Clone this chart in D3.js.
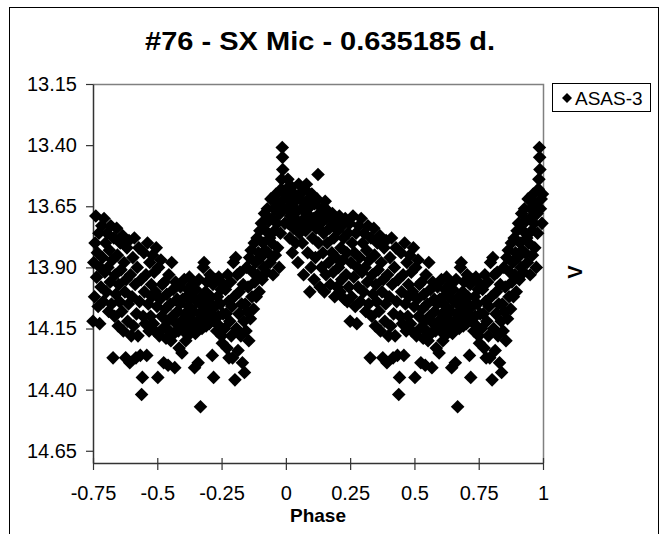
<!DOCTYPE html>
<html>
<head>
<meta charset="utf-8">
<script src="https://cdn.jsdelivr.net/npm/d3@7"></script>
<style>
  html, body { margin: 0; padding: 0; background: #fff; }
  svg { display: block; font-family: "Liberation Sans", Arial, sans-serif; }
</style>
</head>
<body>
<svg id="chart" width="661" height="534"></svg>
<script>
// Phased light curve of SX Mic (ASAS-3), period 0.635185 d.
const titleText = "#76 - SX Mic - 0.635185 d.";
const seriesName = "ASAS-3";
const xLabel = "Phase";
const yLabel = "V";

const xTicks = [-0.75, -0.5, -0.25, 0, 0.25, 0.5, 0.75, 1];
const xTickLabels = ["-0.75", "-0.5", "-0.25", "0", "0.25", "0.5", "0.75", "1"];
const yTicks = [13.15, 13.40, 13.65, 13.90, 14.15, 14.40, 14.65];
const yTickLabels = ["13.15", "13.40", "13.65", "13.90", "14.15", "14.40", "14.65"];
const xDomain = [-0.75, 1];
const yDomain = [13.15, 14.70];

// Observations folded on one cycle: phase (0..1) and V magnitude
const phase = [
  0.002,0.005,0.008,0.010,0.012,0.015,0.018,
  0.022,0.025,0.027,0.030,0.033,0.036,0.038,
  0.041,0.044,0.047,0.050,0.053,0.055,0.058,
  0.061,0.064,0.066,0.069,0.071,0.074,0.077,
  0.080,0.082,0.085,0.088,0.090,0.093,0.096,0.098,
  0.101,0.104,0.107,0.110,0.112,0.115,0.118,
  0.121,0.125,0.127,0.130,0.133,0.136,0.139,
  0.141,0.144,0.147,0.150,0.153,0.156,0.158,
  0.161,0.164,0.167,0.170,0.173,0.176,0.179,
  0.181,0.184,0.187,0.190,0.193,0.196,0.199,
  0.202,0.205,0.208,0.211,0.214,0.217,0.219,
  0.222,0.225,0.228,0.231,0.234,0.237,0.239,
  0.242,0.245,0.248,0.250,0.253,0.256,0.258,
  0.261,0.264,0.267,0.270,0.273,0.276,0.278,
  0.281,0.284,0.287,0.290,0.293,0.296,0.299,
  0.302,0.305,0.308,0.311,0.314,0.317,0.319,
  0.322,0.325,0.328,0.331,0.334,0.336,0.339,
  0.342,0.345,0.348,0.350,0.353,0.356,0.359,
  0.362,0.365,0.368,0.371,0.374,0.377,0.379,
  0.382,0.385,0.388,0.390,0.393,0.396,0.399,
  0.402,0.405,0.408,0.411,0.414,0.417,0.419,
  0.422,0.425,0.428,0.431,0.434,0.437,0.439,
  0.442,0.445,0.448,0.450,0.453,0.456,0.459,
  0.462,0.465,0.468,0.471,0.474,0.477,0.479,
  0.482,0.485,0.488,0.490,0.493,0.496,0.499,
  0.502,0.505,0.508,0.511,0.514,0.517,0.519,
  0.522,0.525,0.528,0.531,0.534,0.537,0.539,
  0.542,0.545,0.548,0.550,0.553,0.556,0.559,
  0.562,0.565,0.568,0.571,0.574,0.577,0.579,
  0.582,0.585,0.588,0.590,0.593,0.596,0.599,
  0.602,0.605,0.608,0.611,0.614,0.617,0.619,
  0.622,0.625,0.628,0.631,0.634,0.637,0.639,
  0.642,0.645,0.648,0.650,0.653,0.656,0.659,
  0.662,0.665,0.668,0.671,0.674,0.677,0.679,
  0.682,0.685,0.688,0.690,0.693,0.696,0.699,
  0.702,0.705,0.708,0.711,0.714,0.717,0.719,
  0.722,0.725,0.728,0.731,0.734,0.737,0.739,
  0.742,0.745,0.748,0.750,0.753,0.756,0.759,
  0.762,0.765,0.768,0.771,0.774,0.777,0.779,
  0.782,0.785,0.788,0.790,0.793,0.796,0.799,
  0.802,0.805,0.808,0.811,0.814,0.817,0.819,
  0.822,0.825,0.828,0.831,0.834,0.837,0.839,
  0.842,0.845,0.848,0.850,0.853,0.856,0.859,
  0.862,0.865,0.868,0.871,0.874,0.877,0.879,
  0.882,0.885,0.888,0.890,0.893,0.896,0.899,
  0.902,0.905,0.908,0.911,0.914,0.917,0.919,
  0.922,0.925,0.928,0.931,0.934,0.937,0.939,
  0.942,0.945,0.948,0.950,0.953,0.956,0.959,
  0.962,0.965,0.968,0.971,0.974,0.977,0.979,
  0.982,0.984,0.986,0.987,0.988,0.990,0.993,0.996,0.998
];
const vmag = [
  13.58,13.66,13.54,13.72,13.62,13.78,13.69,
  13.57,13.84,13.64,13.74,13.60,13.70,13.80,
  13.62,13.67,13.88,13.56,13.76,13.60,13.72,
  13.66,13.80,13.63,13.93,13.70,13.58,13.75,
  13.56,13.68,13.84,13.62,13.73,14.00,13.65,13.90,
  13.60,13.78,13.70,13.95,13.64,13.86,13.74,
  13.62,13.52,13.80,13.68,13.98,13.72,13.90,
  13.66,13.84,13.76,14.00,13.63,13.93,13.70,
  13.80,13.67,13.88,13.74,13.97,13.70,13.84,
  13.68,13.92,13.78,14.02,13.72,13.86,13.98,
  13.75,13.90,13.69,14.00,13.82,13.95,13.73,
  13.87,13.78,14.03,13.70,13.93,13.84,14.04,
  13.76,13.98,13.72,14.12,13.88,14.02,13.80,
  13.69,13.94,13.84,14.06,13.76,14.13,13.90,
  13.98,13.73,13.86,14.04,13.70,13.92,13.80,
  14.00,13.76,13.90,14.08,13.83,13.96,13.73,
  14.05,13.87,14.27,13.78,14.10,13.93,14.01,
  13.74,13.85,14.14,13.97,14.04,13.80,13.91,
  14.08,13.77,14.16,13.88,14.00,14.27,13.95,
  13.82,14.12,14.05,13.79,14.29,13.93,14.18,
  14.02,13.86,14.14,13.78,13.97,14.27,14.09,
  13.90,14.18,13.82,14.04,14.26,13.95,14.42,
  14.35,14.10,13.84,14.00,14.13,13.93,14.26,
  13.80,14.05,14.16,13.88,14.10,13.97,14.02,
  13.85,14.13,13.92,14.16,14.00,13.82,14.06,
  14.35,13.90,14.18,14.03,13.87,14.10,13.97,
  14.15,14.29,13.96,14.07,14.19,14.01,14.12,
  14.30,13.93,14.16,14.05,14.20,13.88,14.10,
  13.99,14.17,14.31,13.96,14.13,14.03,14.08,
  14.16,14.23,14.05,13.98,14.12,14.25,14.03,
  14.16,13.95,14.09,14.20,14.02,14.14,13.99,
  14.06,13.94,14.17,14.11,14.02,13.97,14.14,
  14.08,14.31,14.17,13.99,14.04,14.12,14.29,
  13.95,14.09,14.47,14.02,14.15,14.06,13.90,
  13.88,14.11,14.00,14.14,13.96,14.07,14.04,
  14.13,13.93,14.02,14.09,14.26,13.97,14.35,
  14.12,14.06,13.95,14.16,14.02,14.10,13.94,
  14.14,14.05,13.99,14.18,14.21,14.09,13.97,
  14.15,13.99,14.09,14.23,13.93,14.04,14.27,
  14.12,13.96,14.18,14.06,14.27,13.88,14.02,
  14.36,13.86,14.15,13.93,14.24,14.09,14.00,
  13.92,14.18,14.05,14.29,13.97,14.12,14.33,
  14.05,14.16,13.90,14.08,13.98,14.20,13.86,
  14.11,13.83,14.02,13.92,14.07,13.80,13.96,
  13.88,14.02,13.78,13.93,13.84,14.00,13.75,
  13.86,13.72,13.95,13.80,13.90,13.68,13.83,
  13.75,13.92,13.66,13.84,13.71,13.78,13.88,
  13.62,13.80,13.70,13.93,13.66,13.75,13.85,
  13.60,13.72,13.82,13.64,13.90,13.68,13.76,
  13.58,13.54,13.41,13.45,13.50,13.66,13.62,13.72,13.60
];

const svg = d3.select("#chart");
const W = 661, H = 534;
const plot = { left: 93, right: 543, top: 84, bottom: 463 };

svg.append("rect").attr("width", W).attr("height", H).attr("fill", "#fff");

// chart area border
svg.append("rect")
  .attr("x", 9.5).attr("y", 7.5)
  .attr("width", 649).attr("height", 560)
  .attr("fill", "none").attr("stroke", "#000").attr("stroke-width", 1);

const x = d3.scaleLinear().domain(xDomain).range([plot.left, plot.right]);
const y = d3.scaleLinear().domain(yDomain).range([plot.top, plot.bottom]);

// plot area frame (top and right edges)
svg.append("path")
  .attr("d", `M${plot.left},${plot.top + 0.5}H${plot.right + 0.5}V${plot.bottom}`)
  .attr("fill", "none").attr("stroke", "#808080").attr("stroke-width", 1.5);

// title
svg.append("text")
  .attr("x", 320).attr("y", 50)
  .attr("text-anchor", "middle")
  .attr("font-size", 26).attr("font-weight", "bold")
  .attr("textLength", 350).attr("lengthAdjust", "spacingAndGlyphs")
  .text(titleText);

// y axis
const yAxis = d3.axisLeft(y)
  .tickValues(yTicks)
  .tickFormat((d, i) => yTickLabels[i])
  .tickSize(7).tickPadding(9).tickSizeOuter(0);
const gy = svg.append("g").attr("transform", `translate(${plot.left},0)`).call(yAxis);
gy.select(".domain").attr("stroke", "#333").attr("stroke-width", 1.5);
gy.selectAll(".tick line").attr("stroke", "#333").attr("stroke-width", 1.2);
gy.selectAll(".tick text").attr("font-size", 20).attr("fill", "#000")
  .attr("font-family", "'Liberation Sans', Arial, sans-serif");

// x axis
const xAxis = d3.axisBottom(x)
  .tickValues(xTicks)
  .tickFormat((d, i) => xTickLabels[i])
  .tickSize(7).tickPadding(16).tickSizeOuter(0);
const gx = svg.append("g").attr("transform", `translate(0,${plot.bottom})`).call(xAxis);
gx.select(".domain").attr("stroke", "#333").attr("stroke-width", 1.5);
gx.selectAll(".tick line").attr("stroke", "#333").attr("stroke-width", 1.2).attr("y1", -5);
gx.selectAll(".tick text").attr("font-size", 20).attr("fill", "#000")
  .attr("font-family", "'Liberation Sans', Arial, sans-serif");

// axis titles
svg.append("text")
  .attr("x", 318).attr("y", 522)
  .attr("text-anchor", "middle")
  .attr("font-size", 19).attr("font-weight", "bold")
  .text(xLabel);
svg.append("text")
  .attr("transform", "translate(582,272) rotate(-90)")
  .attr("text-anchor", "middle")
  .attr("font-size", 20).attr("font-weight", "bold")
  .text(yLabel);

// points: each observation drawn at its phase and one cycle earlier
const pts = [];
phase.forEach((p, i) => {
  pts.push({ p: p, v: vmag[i] });
  if (p - 1 >= xDomain[0]) pts.push({ p: p - 1, v: vmag[i] });
});
const r = 6.8;
const diamond = `M0,${-r}L${r},0L0,${r}L${-r},0Z`;
svg.append("g").selectAll("path")
  .data(pts).join("path")
  .attr("d", diamond)
  .attr("transform", d => `translate(${x(d.p)},${y(d.v)})`)
  .attr("fill", "#000");

// legend
const lg = svg.append("g").attr("transform", "translate(552,83)");
lg.append("rect").attr("x", 0.5).attr("y", 0.5).attr("width", 98).attr("height", 28)
  .attr("fill", "#fff").attr("stroke", "#000").attr("stroke-width", 1);
const lr = 5;
lg.append("path").attr("d", `M0,${-lr}L${lr},0L0,${lr}L${-lr},0Z`)
  .attr("transform", "translate(15,15)").attr("fill", "#000");
lg.append("text").attr("x", 23).attr("y", 22)
  .attr("font-size", 19).text(seriesName);
</script>
</body>
</html>
